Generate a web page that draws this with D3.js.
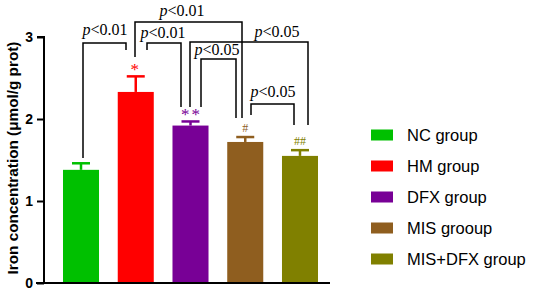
<!DOCTYPE html>
<html><head><meta charset="utf-8">
<script src="https://cdn.jsdelivr.net/npm/d3@7"></script>
<style>body{margin:0;background:#fff}svg{display:block}</style>
</head><body>
<svg id="c" width="536" height="297"></svg>
<script>
const groups = ["NC group","HM group","DFX group","MIS grooup","MIS+DFX group"];
const means = [1.38, 2.33, 1.92, 1.72, 1.55];
const errs = [0.08, 0.19, 0.05, 0.06, 0.07];
const colors = ["#00c000","#ff0000","#780096","#8f5e1f","#808000"];
const marks = ["", "*", "**", "#", "##"];
const yTicks = [0,1,2,3];
// comparisons: [from index, to index, label]
const comps = [
  [0,1,"<0.01"],
  [1,3,"<0.01"],
  [1,2,"<0.01"],
  [2,4,"<0.05"],
  [2,3,"<0.05"],
  [3,4,"<0.05"]
];

const svg = d3.select("#c");
const y = d3.scaleLinear().domain([0,3]).range([283,37]);
const x = d3.scaleBand().domain(groups).range([44,337]).paddingInner(0.342).paddingOuter(0.347);
const cx = i => x(groups[i]) + x.bandwidth()/2;

// bars
svg.selectAll("rect.bar").data(groups).enter().append("rect")
  .attr("x", d => x(d)).attr("width", x.bandwidth())
  .attr("y", (d,i) => y(means[i])).attr("height", (d,i) => y(0)-y(means[i]))
  .attr("fill", (d,i) => colors[i]);

// error bars
groups.forEach((g,i) => {
  const c = cx(i);
  svg.append("line").attr("x1",c).attr("x2",c).attr("y1",y(means[i])).attr("y2",y(means[i]+errs[i]))
    .attr("stroke",colors[i]).attr("stroke-width",2.5);
  svg.append("line").attr("x1",c-9).attr("x2",c+9).attr("y1",y(means[i]+errs[i])).attr("y2",y(means[i]+errs[i]))
    .attr("stroke",colors[i]).attr("stroke-width",2.5);
  if (marks[i]) {
    const star = marks[i][0]==="*";
    svg.append("text").attr("x",c).attr("dx", star && marks[i].length>1 ? 1 : 0)
      .attr("y",y(means[i]+errs[i])-(star?1:5))
      .attr("text-anchor","middle").attr("fill",colors[i])
      .attr("font-family","Liberation Serif, serif").attr("font-size", star?17:12)
      .attr("letter-spacing", star?2:0)
      .text(marks[i]);
  }
});

// axes
const yAxis = d3.axisLeft(y).tickValues(yTicks).tickFormat(d3.format("d")).tickSize(7).tickPadding(4);
const ga = svg.append("g").attr("transform","translate(44,0)").call(yAxis);
ga.select(".domain").attr("stroke","#000").attr("stroke-width",2).attr("d","M-7,37H0V283");
ga.selectAll(".tick line").attr("stroke","#000").attr("stroke-width",2);
ga.selectAll(".tick text").attr("font-family","Liberation Sans, Arial, sans-serif").attr("font-weight","bold").attr("font-size",14).attr("fill","#000");
svg.append("line").attr("x1",36).attr("x2",330).attr("y1",y(0)).attr("y2",y(0)).attr("stroke","#000").attr("stroke-width",2);

svg.append("text").attr("transform","translate(18,158) rotate(-90)")
  .attr("text-anchor","middle").attr("font-family","Liberation Sans, Arial, sans-serif")
  .attr("font-weight","bold").attr("font-size",15.3).attr("fill","#000")
  .text("Iron concentration (μmol/g prot)");

// brackets (layout positions)
const bLayout = [
  {top:43, lb:158, rb:50, tx:105, ty:35, lx:83, rx:126},
  {top:22, lb:57, rb:118, tx:182, ty:16, lx:135, rx:242},
  {top:43, lb:50, rb:107, tx:163, ty:38, lx:147, rx:181},
  {top:42, lb:107, rb:125, tx:277, ty:37, lx:190, rx:308},
  {top:59, lb:107, rb:118, tx:217, ty:55, lx:201, rx:236},
  {top:104, lb:115, rb:125, tx:273, ty:97, lx:251, rx:294}
];
comps.forEach((c,k) => {
  const b = bLayout[k];
  svg.append("path").attr("d",`M${b.lx},${b.lb}V${b.top}H${b.rx}V${b.rb}`)
    .attr("fill","none").attr("stroke","#000").attr("stroke-width",1.5);
  const t = svg.append("text").attr("x",b.tx).attr("y",b.ty).attr("text-anchor","middle")
    .attr("font-family","Liberation Serif, 'Times New Roman', serif").attr("font-size",16).attr("fill","#000");
  t.append("tspan").attr("font-style","italic").text("p");
  t.append("tspan").text(c[2]);
});

// legend
const lg = svg.append("g");
groups.forEach((g,i) => {
  const yy = 135 + i*31;
  lg.append("rect").attr("x",371).attr("y",yy-5.5).attr("width",22).attr("height",11).attr("fill",colors[i]);
  lg.append("text").attr("x",407).attr("y",yy+6).attr("font-family","Liberation Sans, Arial, sans-serif")
    .attr("font-size",16.5).attr("fill","#000").text(g);
});
</script>
</body></html>
